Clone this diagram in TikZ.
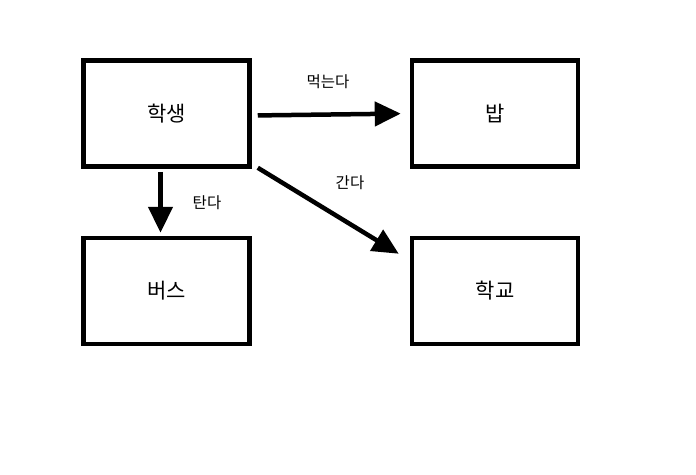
\documentclass[tikz,border=0pt]{standalone}
\usepackage{fontspec}
\setmainfont{Noto Sans CJK KR}
\usetikzlibrary{arrows.meta,calc,positioning}
\tikzset{
    >={Triangle[length=26pt,width=24pt]},
    kasten/.style={
           rectangle,
           draw=black, line width=4.5pt,
           minimum width=166pt,
           minimum height=106pt,
           inner sep=0pt,
           font=\fontsize{21}{25}\selectfont,
           text centered},
    pil/.style={
           ->,
           line width=4.5pt},
    beschr/.style={
           inner sep=0pt,
           font=\fontsize{15.5}{18}\selectfont}
}
\begin{document}
\begin{tikzpicture}[x=1pt, y=-1pt]
        \useasboundingbox (0,0) rectangle (696,474);

        \node[kasten] (hak) at (166.5,113.5) {학생};
        \node[kasten, right=158pt of hak] (bap) {밥};
        \node[kasten, below=67pt of hak] (bus) {버스};
        \node[kasten, below=67pt of bap] (hakgyo) {학교};

        \draw[pil, shorten <=6pt, shorten >=9pt] ([yshift=-2pt]hak.east) -- (bap.west);
        \draw[pil, shorten <=3pt, shorten >=3pt] ([xshift=-6pt]hak.south) -- ([xshift=-6pt]bus.north);
        \draw[pil] ($(hak.south east)+(6,-1)$) -- ($(hakgyo.north west)+(-11,18)$);

        \node[beschr] (essen) at (328,82) {먹는다};
        \node[beschr] (fahren) at (207,203) {탄다};
        \node[beschr] (gehen) at (350,183) {간다};
\end{tikzpicture}
\end{document}
